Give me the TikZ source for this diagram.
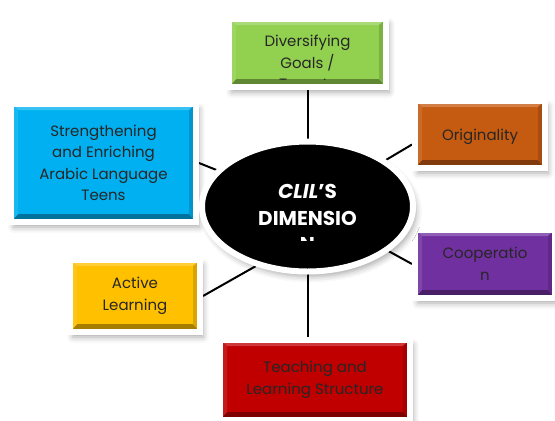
\documentclass[tikz,border=0pt]{standalone}
\usepackage{fontspec}
\setmainfont{Poppins}
\usetikzlibrary{shapes.geometric,shadows.blur,backgrounds,calc}

\definecolor{dgreen}{HTML}{92D050}
\definecolor{dblue}{HTML}{00B0F0}
\definecolor{dorange}{HTML}{C55A11}
\definecolor{dpurple}{HTML}{7030A0}
\definecolor{dyellow}{HTML}{FFC000}
\definecolor{dred}{HTML}{C00000}

\tikzset{
  bevel/.style={path picture={
    \path (path picture bounding box.south west) coordinate (sw)
          (path picture bounding box.north east) coordinate (ne)
          (sw |- ne) coordinate (nw) (ne |- sw) coordinate (se);
    \fill[#1!78!white] (nw) -- (ne) -- ([shift={(-7bp,-6bp)}]ne) -- ([shift={(7bp,-6bp)}]nw) -- cycle;
    \fill[#1!65!black] (sw) -- (se) -- ([shift={(-7bp,8bp)}]se) -- ([shift={(7bp,8bp)}]sw) -- cycle;
    \fill[#1!90!white] (nw) -- (sw) -- ([shift={(7bp,8bp)}]sw) -- ([shift={(7bp,-6bp)}]nw) -- cycle;
    \fill[#1!85!black] (ne) -- (se) -- ([shift={(-7bp,8bp)}]se) -- ([shift={(-7bp,-6bp)}]ne) -- cycle;
  }},
  boxtext/.style={text=black!85, align=center, inner sep=0pt,
    font=\fontsize{15bp}{21.5bp}\selectfont},
  dimtext/.style={text=white, align=center, inner sep=0pt,
    font=\fontsize{20bp}{27bp}\selectfont\bfseries},
  dimbox/.style={rectangle, fill=#1, draw=white, line width=6bp, bevel=#1, boxtext,
    execute at begin node={\rule{0pt}{16bp}},
    blur shadow={shadow xshift=3bp, shadow yshift=-5bp, shadow blur radius=6bp, shadow opacity=35}},
  link/.style={draw=black, line width=2bp},
}

\begin{document}
\begin{tikzpicture}[x=1bp, y=-1bp]

\node[dimbox=dgreen, minimum width=157bp, minimum height=68bp] (green) at (307.5,53) {Diversifying\\Goals /};
\node[dimbox=dblue, minimum width=185bp, minimum height=118bp] (blue) at (103.5,163) {Strengthening\\and Enriching\\Arabic Language\\Teens};
\node[dimbox=dorange, minimum width=130bp, minimum height=67bp] (orange) at (480,134.5) {Originality};
\node[dimbox=dpurple, minimum width=140bp, minimum height=68bp] (purple) at (485,264) {Cooperatio\\n};
\node[dimbox=dyellow, minimum width=130bp, minimum height=72bp] (yellow) at (135,296) {Active\\Learning};
\node[dimbox=dred, minimum width=190bp, minimum height=80bp] (red) at (315,380) {Teaching and\\Learning Structure};

\node[ellipse, fill=black, draw=white, line width=6bp, minimum width=211bp, minimum height=130bp, dimtext,
  execute at end node={\rule[-4bp]{0pt}{4bp}},
  blur shadow={shadow xshift=3bp, shadow yshift=-5bp, shadow blur radius=6bp, shadow opacity=35}]
  (dim) at (307.5,206.5) {\textit{CLIL}'S\\DIMENSIO};

\begin{scope}
\clip (232,22) rectangle (383,79.5);
\node[boxtext] (gtail) at (307.5,86) {Targets};
\end{scope}
\begin{scope}
\clip (250,180) rectangle (370,240);
\node[dimtext] (dtail) at (307.5,244) {N};
\end{scope}

\begin{scope}[on background layer]
\draw[link] (green.south) -- (dim.center);
\draw[link] (blue.east) -- (dim.center);
\draw[link] ($(orange.west)+(0,10)$) -- (dim.center);
\draw[link] (purple.west) -- (dim.center);
\draw[link] (yellow.east) -- (dim.229);
\draw[link] (dim.center) -- (dim.center |- red.north);
\end{scope}

\pgfresetboundingbox
\useasboundingbox (0,0) rectangle (555,420);

\end{tikzpicture}
\end{document}
